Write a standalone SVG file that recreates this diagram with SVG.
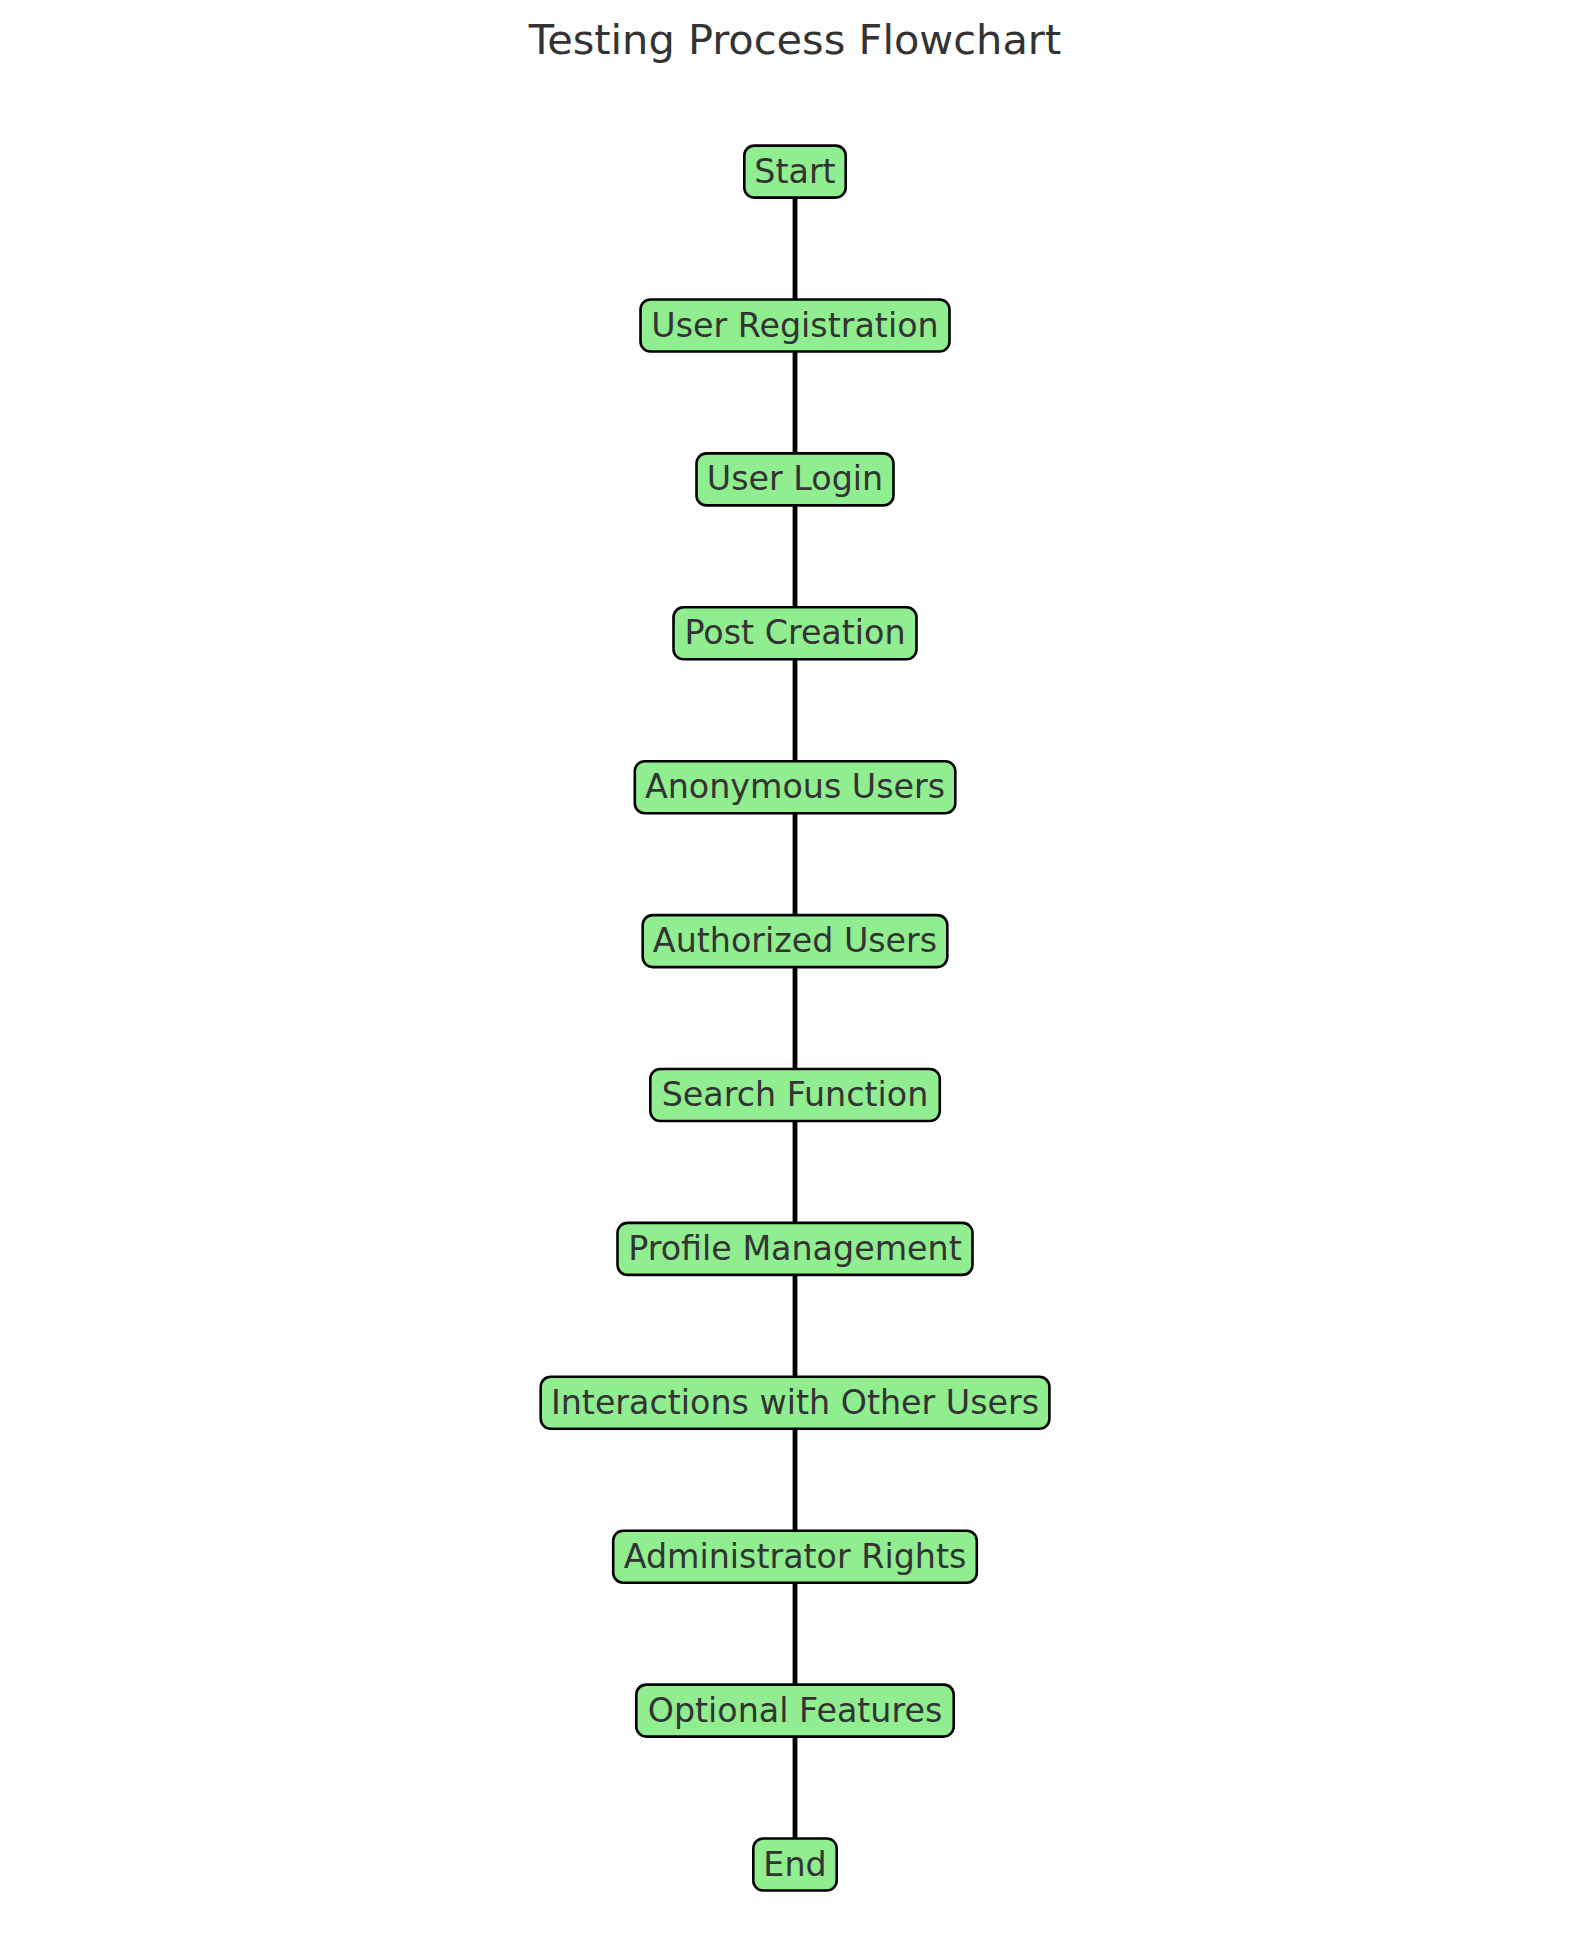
<svg xmlns="http://www.w3.org/2000/svg" width="1589" height="1937" viewBox="0 0 1589 1937">
  <style>
    .title { font-family: "DejaVu Sans", sans-serif; font-size: 41.5px; fill: #333333; text-anchor: middle; }
    .node rect { fill: #90EE90; stroke: #000000; stroke-width: 2.6; }
    .node text { font-family: "DejaVu Sans", sans-serif; font-size: 33.3px; fill: #333333; text-anchor: middle; }
    .edge { stroke: #000000; stroke-width: 4.8; fill: none; }
  </style>
  <rect width="1589" height="1937" fill="#ffffff"/>
  <text class="title" x="795" y="53.5">Testing Process Flowchart</text>

  <!-- edges between consecutive steps -->
  <g id="connectors">
    <line class="edge" x1="795" y1="171.6" x2="795" y2="325.5"/>
    <line class="edge" x1="795" y1="325.5" x2="795" y2="479.4"/>
    <line class="edge" x1="795" y1="479.4" x2="795" y2="633.3"/>
    <line class="edge" x1="795" y1="633.3" x2="795" y2="787.2"/>
    <line class="edge" x1="795" y1="787.2" x2="795" y2="941.1"/>
    <line class="edge" x1="795" y1="941.1" x2="795" y2="1095"/>
    <line class="edge" x1="795" y1="1095" x2="795" y2="1248.9"/>
    <line class="edge" x1="795" y1="1248.9" x2="795" y2="1402.8"/>
    <line class="edge" x1="795" y1="1402.8" x2="795" y2="1556.7"/>
    <line class="edge" x1="795" y1="1556.7" x2="795" y2="1710.6"/>
    <line class="edge" x1="795" y1="1710.6" x2="795" y2="1864.5"/>
  </g>

  <!-- steps: box width = label width + 20 -->
  <g id="start" class="node">
    <rect x="744.3" y="145.6" width="101.4" height="52" rx="10"/>
    <text x="795" y="182.6">Start</text>
  </g>
  <g id="user-registration" class="node">
    <rect x="640.5" y="299.5" width="309" height="52" rx="10"/>
    <text x="795" y="336.5">User Registration</text>
  </g>
  <g id="user-login" class="node">
    <rect x="696.5" y="453.4" width="197" height="52" rx="10"/>
    <text x="795" y="490.4">User Login</text>
  </g>
  <g id="post-creation" class="node">
    <rect x="673.5" y="607.3" width="243" height="52" rx="10"/>
    <text x="795" y="644.3">Post Creation</text>
  </g>
  <g id="anonymous-users" class="node">
    <rect x="634.8" y="761.2" width="320.5" height="52" rx="10"/>
    <text x="795" y="798.2">Anonymous Users</text>
  </g>
  <g id="authorized-users" class="node">
    <rect x="642.7" y="915.1" width="304.6" height="52" rx="10"/>
    <text x="795" y="952.1">Authorized Users</text>
  </g>
  <g id="search-function" class="node">
    <rect x="650.3" y="1069" width="289.5" height="52" rx="10"/>
    <text x="795" y="1106">Search Function</text>
  </g>
  <g id="profile-management" class="node">
    <rect x="617.5" y="1222.9" width="355" height="52" rx="10"/>
    <text x="795" y="1259.9">Profile Management</text>
  </g>
  <g id="interactions" class="node">
    <rect x="540.7" y="1376.8" width="508.7" height="52" rx="10"/>
    <text x="795" y="1413.8">Interactions with Other Users</text>
  </g>
  <g id="administrator-rights" class="node">
    <rect x="613.2" y="1530.7" width="363.6" height="52" rx="10"/>
    <text x="795" y="1567.7">Administrator Rights</text>
  </g>
  <g id="optional-features" class="node">
    <rect x="636.3" y="1684.6" width="317.4" height="52" rx="10"/>
    <text x="795" y="1721.6">Optional Features</text>
  </g>
  <g id="end" class="node">
    <rect x="753.3" y="1838.5" width="83.4" height="52" rx="10"/>
    <text x="795" y="1875.5">End</text>
  </g>
</svg>
